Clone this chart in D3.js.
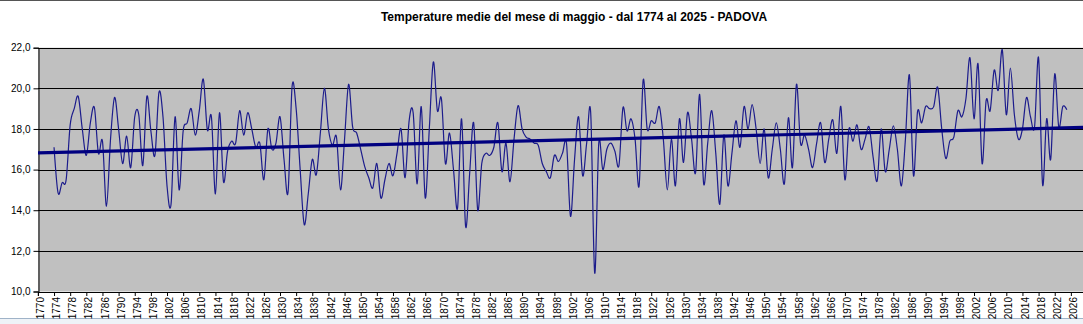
<!DOCTYPE html>
<html>
<head>
<meta charset="utf-8">
<script src="https://cdn.jsdelivr.net/npm/d3@7"></script>
<style>
  html, body { margin: 0; padding: 0; background: #ffffff; overflow: hidden; }
  svg { display: block; }
  text { font-family: Arial, "Liberation Sans", sans-serif; }
</style>
</head>
<body>
<svg id="chart" width="1083" height="324"></svg>
<script>
// Mean May temperature in Padova (°C), one value per year starting at firstYear
const firstYear = 1774;
const temps = [
  17.1, 14.85, 15.35, 15.5, 18.2, 19.0, 19.6, 18.0, 16.7, 18.3,      // 1774-1783
  19.05, 16.8, 17.4, 14.2, 17.5, 19.55, 18.0, 16.3, 17.65, 16.1,     // 1784-1793
  18.6, 18.7, 16.2, 19.6, 17.9, 16.7, 19.8, 18.6, 15.2, 14.3,        // 1794-1803
  18.6, 15.0, 17.9, 18.3, 19.0, 17.7, 18.9, 20.45, 17.95, 18.6,      // 1804-1813
  14.8, 18.8, 15.4, 16.9, 17.4, 17.3, 18.9, 17.7, 18.8, 18.0,        // 1814-1823
  17.1, 17.3, 15.5, 18.0, 17.0, 17.3, 18.6, 16.5, 14.9, 20.1,        // 1824-1833
  19.0, 16.0, 13.3, 14.8, 16.5, 15.75, 17.8, 20.0, 18.0, 17.2,       // 1834-1843
  17.6, 15.0, 17.5, 20.2, 18.1, 17.8, 17.0, 16.15, 15.6, 15.1,       // 1844-1853
  16.3, 14.6, 15.5, 16.3, 15.7, 16.8, 18.0, 15.6, 18.4, 18.8,        // 1854-1863
  15.3, 19.1, 14.6, 18.0, 21.3, 18.9, 19.5, 16.3, 17.8, 16.0,        // 1864-1873
  14.1, 18.5, 13.2, 15.8, 18.3, 14.0, 16.3, 16.8, 16.7, 17.1,        // 1874-1883
  18.3, 15.9, 17.3, 15.4, 17.5, 19.15, 18.0, 17.6, 17.5, 17.3,       // 1884-1893
  17.2, 16.3, 15.9, 15.6, 16.7, 16.4, 16.8, 17.3, 13.7, 16.5,        // 1894-1903
  18.6, 15.7, 17.3, 18.8, 10.9, 17.3, 16.0, 17.0, 17.3, 16.9,        // 1904-1913
  16.2, 19.05, 17.9, 18.5, 17.5, 15.2, 20.4, 18.0, 18.4, 18.3,       // 1914-1923
  19.1, 17.5, 15.0, 17.5, 15.2, 18.5, 16.35, 18.8, 17.5, 15.85,      // 1924-1933
  19.7, 15.3, 17.3, 18.9, 16.8, 14.3, 17.7, 15.2, 16.8, 18.4,        // 1934-1943
  17.1, 19.1, 18.0, 19.2, 18.0, 16.3, 18.0, 15.6, 17.0, 18.3,        // 1944-1953
  17.0, 15.3, 18.55, 16.1, 20.2, 17.3, 17.7, 17.0, 16.1, 17.3,       // 1954-1963
  18.3, 16.35, 17.5, 18.45, 16.8, 19.1, 15.5, 18.0, 17.4, 18.2,      // 1964-1973
  17.0, 17.5, 18.1, 16.6, 15.45, 18.0, 15.9, 17.0, 18.15, 17.0,      // 1974-1983
  15.2, 17.5, 20.65, 15.7, 18.85, 18.3, 19.1, 19.0, 19.1, 20.05,     // 1984-1993
  18.0, 16.55, 17.4, 17.6, 18.9, 18.6, 19.5, 21.5, 18.5, 21.2,       // 1994-2003
  16.3, 19.4, 18.9, 20.9, 19.9, 21.9, 18.7, 21.0, 18.7, 17.5,        // 2004-2013
  18.0, 19.55, 18.6, 18.1, 21.5, 15.25, 18.5, 16.5, 20.7, 18.1,      // 2014-2023
  19.1, 18.95                                                        // 2024-2025
];
const years = temps.map((_, i) => firstYear + i);

// Axis ticks
const yTicks = [10, 12, 14, 16, 18, 20, 22];
const xTickYears = d3.range(1770, 2027, 4);

const titleText = "Temperature medie del mese di maggio - dal 1774 al 2025 - PADOVA";

const svg = d3.select("#chart");
const W = 1083, H = 324;

// Plot area
const plot = { left: 38, top: 47.7, bottom: 291.5 };
const x = d3.scaleLinear().domain([1770, 2030]).range([37.9, 37.9 + 260 * 4.035]);
const y = d3.scaleLinear().domain([10, 22]).range([plot.bottom, plot.top]);

// Spreadsheet strip below the chart object
svg.append("rect").attr("x", 0).attr("y", 318).attr("width", W).attr("height", 6)
  .attr("fill", "#eef2f7");
svg.append("line").attr("x1", 0).attr("x2", W).attr("y1", 318.5).attr("y2", 318.5)
  .attr("stroke", "#9fb3c8").attr("stroke-width", 1);

// Chart border at top
svg.append("line").attr("x1", 0).attr("x2", W).attr("y1", 0.5).attr("y2", 0.5)
  .attr("stroke", "#555").attr("stroke-width", 1);

// Plot background
svg.append("rect")
  .attr("x", plot.left).attr("y", plot.top)
  .attr("width", W - plot.left + 10).attr("height", plot.bottom - plot.top)
  .attr("fill", "#c0c0c0");

// Horizontal gridlines
svg.append("g").selectAll("line").data(yTicks).join("line")
  .attr("x1", plot.left).attr("x2", W + 10)
  .attr("y1", d => Math.round(y(d)) + 0.5).attr("y2", d => Math.round(y(d)) + 0.5)
  .attr("stroke", "#000").attr("stroke-width", 1);

// Y axis
const yAxis = d3.axisLeft(y).tickValues(yTicks).tickSize(5).tickPadding(3)
  .tickFormat(d => d3.format(".1f")(d).replace(".", ","));
const gy = svg.append("g").attr("transform", `translate(${plot.left + 0.5},0)`).call(yAxis);
gy.select(".domain").attr("stroke", "#000");
gy.selectAll(".tick line").attr("stroke", "#000");
gy.selectAll(".tick text").attr("font-size", 10).attr("fill", "#000")
  .attr("font-family", "Arial, 'Liberation Sans', sans-serif");

// X axis
const xAxis = d3.axisBottom(x).tickValues(xTickYears).tickSize(4).tickFormat(d3.format("d"));
const gx = svg.append("g").attr("transform", `translate(0,${plot.bottom + 0.5})`).call(xAxis);
gx.select(".domain").attr("stroke", "#000");
gx.selectAll(".tick line").attr("stroke", "#000");
gx.selectAll(".tick text")
  .attr("font-size", 10).attr("fill", "#000")
  .attr("font-family", "Arial, 'Liberation Sans', sans-serif")
  .attr("text-anchor", "end")
  .attr("dy", null).attr("y", null)
  .attr("transform", "translate(3,5) rotate(-90)")
  .attr("dominant-baseline", "middle")
  .attr("x", 0);

// Linear trend (least squares over the series)
const n = temps.length;
const mx = d3.mean(years), my = d3.mean(temps);
let sxy = 0, sxx = 0;
for (let i = 0; i < n; i++) {
  sxy += (years[i] - mx) * (temps[i] - my);
  sxx += (years[i] - mx) * (years[i] - mx);
}
const slope = sxy / sxx;
const intercept = my - slope * mx;
const trendYears = [1770, 2030];

svg.append("clipPath").attr("id", "plotClip").append("rect")
  .attr("x", plot.left).attr("y", plot.top).attr("width", W).attr("height", plot.bottom - plot.top);

// Series line (smoothed)
const line = d3.line()
  .x((d, i) => x(years[i]))
  .y(d => y(d))
  .curve(d3.curveCardinal.tension(0));

svg.append("path")
  .datum(temps)
  .attr("d", line)
  .attr("fill", "none")
  .attr("stroke", "#1c1c8c")
  .attr("stroke-width", 1.2)
  .attr("stroke-linejoin", "round");

// Trend line
svg.append("line")
  .attr("clip-path", "url(#plotClip)")
  .attr("x1", x(trendYears[0])).attr("y1", y(intercept + slope * trendYears[0]))
  .attr("x2", x(trendYears[1])).attr("y2", y(intercept + slope * trendYears[1]))
  .attr("stroke", "#000080")
  .attr("stroke-width", 3.2);

// Title
svg.append("text")
  .attr("x", 574).attr("y", 21)
  .attr("text-anchor", "middle")
  .attr("font-size", 12).attr("font-weight", "bold").attr("fill", "#000")
  .text(titleText);
</script>
</body>
</html>
